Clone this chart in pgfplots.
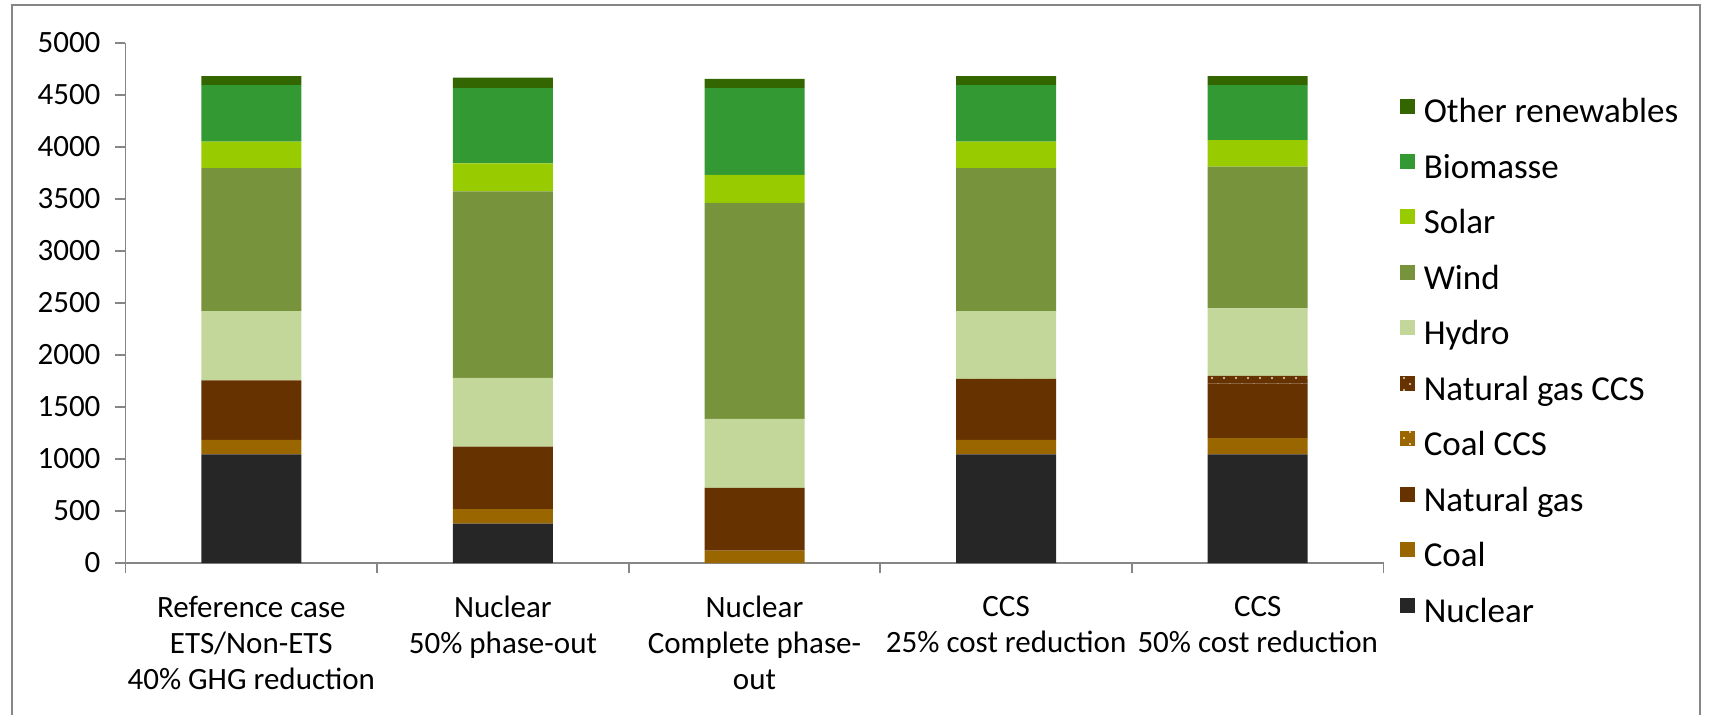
\documentclass[border=0pt]{standalone}
\usepackage{fontspec}
\setmainfont{Carlito}
\usepackage{pgfplots}
\pgfplotsset{compat=1.18}
\usepackage{pgfplotstable}
\usetikzlibrary{patterns}

% sparse staggered dots used for the CCS variants
\pgfdeclarepatternformonly{ccsdots}{\pgfpoint{-1pt}{-1pt}}{\pgfpoint{7pt}{7pt}}{\pgfpoint{6pt}{6pt}}{%
  \pgfpathcircle{\pgfpoint{0pt}{0pt}}{0.6pt}%
  \pgfpathcircle{\pgfpoint{3pt}{3pt}}{0.6pt}%
  \pgfusepath{fill}}

\definecolor{cNuclear}{HTML}{262626}
\definecolor{cCoal}{HTML}{996600}
\definecolor{cGas}{HTML}{663300}
\definecolor{cHydro}{HTML}{C4D79B}
\definecolor{cWind}{HTML}{77933C}
\definecolor{cSolar}{HTML}{99CC00}
\definecolor{cBio}{HTML}{339933}
\definecolor{cOther}{HTML}{336600}
\definecolor{cAxis}{HTML}{868686}

% electricity generation by technology for each scenario
\pgfplotstableread{
x nuc  coal gas coalccs gasccs hydro wind solar bio other
0 1044 141  571 0       0      665   1377 255   541 87
1 379  138  601 0       0      662   1793 269   725 101
2 0    118  604 0       0      665   2075 269   836 87
3 1044 141  566 0       20     650   1377 255   541 87
4 1044 158  524 0       74     648   1363 255   528 87
}\gen

\newcommand{\chartfont}{\fontsize{15.5}{18}\selectfont}
\newcommand{\legendfont}{\fontsize{17.5}{20}\selectfont}

\begin{document}
\begin{tikzpicture}[x=1pt,y=1pt]
\useasboundingbox (-62.75,-75.5) rectangle (792.75,281.5);
\draw[cAxis, line width=1pt] (-56.75,-90) -- (-56.75,279) -- (787.25,279) -- (787.25,-90);
\begin{axis}[
  at={(0,0)}, anchor=south west,
  scale only axis,
  width=629pt, height=260pt,
  ybar stacked,
  bar width=50pt,
  xmin=-0.5, xmax=4.5,
  ymin=0, ymax=5000,
  axis x line=bottom, axis y line=left,
  axis line style={cAxis, line width=0.9pt, -},
  tick style={cAxis, line width=0.9pt},
  tick align=outside,
  major tick length=5pt,
  ytick={0,500,...,5000},
  xtick={-0.5,0.5,1.5,2.5,3.5,4.5},
  xticklabels={},
  extra x ticks={0,1,2,3,4},
  extra x tick labels={{Reference case\\ETS/Non-ETS\\40\% GHG reduction},{Nuclear\\50\% phase-out},{Nuclear\\Complete phase-\\out},{CCS\\25\% cost reduction},{CCS\\50\% cost reduction}},
  extra x tick style={major tick length=0pt, xticklabel style={align=center, yshift=-13pt}},
  /pgf/number format/assume math mode=true,
  /pgf/number format/1000 sep={},
  every tick label/.append style={font=\chartfont, text=black},
  yticklabel style={xshift=-4pt},
  reverse legend,
  legend cell align=left,
  legend style={at={(1.0131,0.898)}, anchor=north west, draw=none, fill=none,
    font=\legendfont, row sep=12.1pt, inner sep=0pt,
    nodes={inner sep=1pt},
    /tikz/every odd column/.append style={column sep=3.2pt}},
  legend image code/.code={\fill[#1, draw=none] (0pt,-0.75pt) rectangle (7.5pt,6.75pt);},
]
\addplot[fill=cNuclear, draw=none] table[x=x, y=nuc] {\gen};
\addlegendentry{Nuclear}
\addplot[fill=cCoal, draw=none] table[x=x, y=coal] {\gen};
\addlegendentry{Coal}
\addplot[fill=cGas, draw=none] table[x=x, y=gas] {\gen};
\addlegendentry{Natural gas}
\addplot[fill=cCoal, draw=none, postaction={pattern=ccsdots, pattern color=white!85!cCoal}] table[x=x, y=coalccs] {\gen};
\addlegendentry{Coal CCS}
\addplot[fill=cGas, draw=none, postaction={pattern=ccsdots, pattern color=white!85!cGas}] table[x=x, y=gasccs] {\gen};
\addlegendentry{Natural gas CCS}
\addplot[fill=cHydro, draw=none] table[x=x, y=hydro] {\gen};
\addlegendentry{Hydro}
\addplot[fill=cWind, draw=none] table[x=x, y=wind] {\gen};
\addlegendentry{Wind}
\addplot[fill=cSolar, draw=none] table[x=x, y=solar] {\gen};
\addlegendentry{Solar}
\addplot[fill=cBio, draw=none] table[x=x, y=bio] {\gen};
\addlegendentry{Biomasse}
\addplot[fill=cOther, draw=none] table[x=x, y=other] {\gen};
\addlegendentry{Other renewables}
\end{axis}
\end{tikzpicture}
\end{document}
